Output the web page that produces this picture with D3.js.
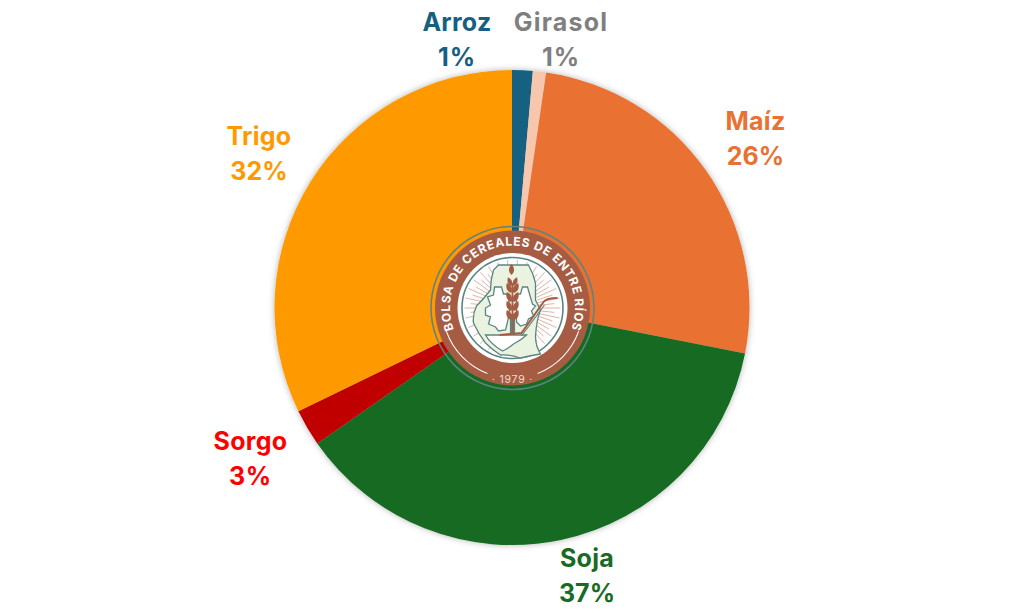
<!DOCTYPE html>
<html><head><meta charset="utf-8">
<script src="https://cdn.jsdelivr.net/npm/d3@7"></script>
<style>html,body{margin:0;background:#fff}svg{display:block}text{font-family:Inter,sans-serif}</style>
</head><body><svg id="c" width="1024" height="614"></svg>
<script>
const categories=["Arroz","Girasol","Maíz","Soja","Sorgo","Trigo"];
const values=[1.4,0.9,25.8,37.2,2.5,32.2];
const percentLabels=["1%","1%","26%","37%","3%","32%"];
const sliceColors=["#156082","#f6c6ad","#e97132","#196b24","#c00000","#ff9900"];
const labelColors=["#156082","#7f7f7f","#e97132","#196b24","#ff0000","#ff9900"];
const labelPositions=[[457,22],[561,22],[755.5,121],[587,558],[250.5,441],[259,136]];

const svg=d3.select("#c");
const defs=svg.append("defs");
const f=defs.append("filter").attr("id","sh").attr("x","-10%").attr("y","-10%").attr("width","120%").attr("height","120%");
f.append("feDropShadow").attr("dx",0).attr("dy",0).attr("stdDeviation",3).attr("flood-color","#000").attr("flood-opacity",.3);

const cx=512,cy=307.5,R=237.5;
const pie=d3.pie().sort(null).value(d=>d);
const arc=d3.arc().innerRadius(0).outerRadius(R);
const g=svg.append("g").attr("transform",`translate(${cx},${cy})`).attr("filter","url(#sh)");
g.selectAll("path").data(pie(values)).join("path").attr("d",arc).attr("fill",(d,i)=>sliceColors[i]);

const lab=svg.append("g").attr("text-anchor","middle").attr("font-weight",700).attr("font-size",25).attr("letter-spacing",.3);
categories.forEach((c,i)=>{
  const [x,y]=labelPositions[i];
  lab.append("text").attr("x",x).attr("y",y+9).attr("fill",labelColors[i]).attr("letter-spacing",c==="Girasol"?1.2:.3).text(c);
  lab.append("text").attr("x",x).attr("y",y+44).attr("fill",labelColors[i]).attr("letter-spacing",percentLabels[i].length>2?0:.8).text(percentLabels[i]);
});

// Logo
const L=svg.append("g").attr("transform","translate(512.5,308)");
const brown="#a65c43",teal="#5b8583",pale="#e9f3e0";
L.append("circle").attr("r",81.5).attr("fill","none").attr("stroke",teal).attr("stroke-width",1.6);
L.append("circle").attr("r",77.5).attr("fill",brown);
L.append("circle").attr("r",55).attr("fill","#fff");
L.append("circle").attr("r",50.5).attr("fill","none").attr("stroke",teal).attr("stroke-width",1.6);
// rays
const rays=L.append("g").attr("stroke","#d59f8e").attr("stroke-width",.8);
d3.range(0,360,6).forEach(a=>{const t=a*Math.PI/180,r2=a%12?42:48;
  rays.append("line").attr("x1",26*Math.cos(t)).attr("y1",26*Math.sin(t)).attr("x2",r2*Math.cos(t)).attr("y2",r2*Math.sin(t));});
// province shape
L.append("path").attr("d","M-14,-43 L16,-43 Q21,-34 23,-25 L23,-8 L28,2 Q24,12 23,28 Q23,38 28,46 Q16,48 8,50 Q-4,46 -12,47 Q-20,42 -27,35 Q-34,26 -39,15 Q-40,6 -36,-2 Q-28,-10 -22,-18 Q-22,-28 -19,-38 Z")
 .attr("fill",pale).attr("stroke",teal).attr("stroke-width",1.3);
// gears
L.append("path").attr("d","M-4,-14 L-9,-14 L-11,-21 L-18,-21 L-19,-13 L-25,-11 L-22,-3 L-27,0 L-27,7 L-22,9 L-24,16 L-17,19 L-14,23 L-7,22 L-5,14 L-3,4 Z M4,-14 L8,-14 L10,-21 L15,-21 L17,-14 L20,-4 L23,-2 L19,3 L21,8 L16,11 L14,16 L8,18 L4,14 Z")
 .attr("fill","#fff").attr("stroke",teal).attr("stroke-width",1.3);
// wheat
L.append("rect").attr("x",-2.6).attr("y",6).attr("width",5.2).attr("height",21).attr("fill",teal);
L.append("rect").attr("x",-.9).attr("y",-25).attr("width",1.8).attr("height",52).attr("fill",brown);
const leaf="M0,0 C3.4,-3 3.4,-7 0,-11 C-3.4,-7 -3.4,-3 0,0 Z";
L.append("path").attr("d",leaf).attr("transform","translate(-1,-33)").attr("fill",brown);
[-15,-6,3,12].forEach(y=>{[-1,1].forEach(s=>{
  L.append("path").attr("d",leaf).attr("transform",`translate(${s*1.2},${y}) rotate(${s*24})`).attr("fill",brown);
});});
[-1,1].forEach(s=>L.append("path").attr("d",leaf).attr("transform",`translate(${s*1},-22) rotate(${s*22}) scale(.85)`).attr("fill",brown));
// mate and straw
L.append("path").attr("d","M-27,27 L14,27 Q9,32 1,36 Q-5,41 -10,43 Q-22,36 -27,27 Z").attr("fill","#fff").attr("stroke",teal).attr("stroke-width",1.3);
L.append("path").attr("d","M-13,27 L9,25 L31,-6 Q34,-10 45,-10").attr("fill","none").attr("stroke",brown).attr("stroke-width",2);
L.append("path").attr("d","M9,28 L32,-3").attr("fill","none").attr("stroke",teal).attr("stroke-width",1.2);
// ring text
const tr=62.5;
defs.append("path").attr("id","ringTop").attr("d",`M0,${tr} A${tr},${tr} 0 1 1 .01,${tr}`);
L.append("text").attr("font-weight",700).attr("font-size",12).attr("fill","#fff")
 .attr("text-anchor","middle").append("textPath").attr("href","#ringTop").attr("startOffset","50%").attr("letter-spacing",.75).text("BOLSA DE CEREALES DE ENTRE RÍOS");
// ring arcs
const ra=d3.arc().innerRadius(69.6).outerRadius(70.6);
const deg=Math.PI/180;
L.append("path").attr("d",ra({startAngle:201*deg,endAngle:250.6*deg})).attr("fill","#fff");
L.append("path").attr("d",ra({startAngle:109.4*deg,endAngle:159*deg})).attr("fill","#fff");
L.append("text").attr("y",75).attr("text-anchor","middle").attr("fill","#f0dcd4").attr("font-size",10.5).attr("letter-spacing",.8).text("· 1979 ·");
</script></body></html>
